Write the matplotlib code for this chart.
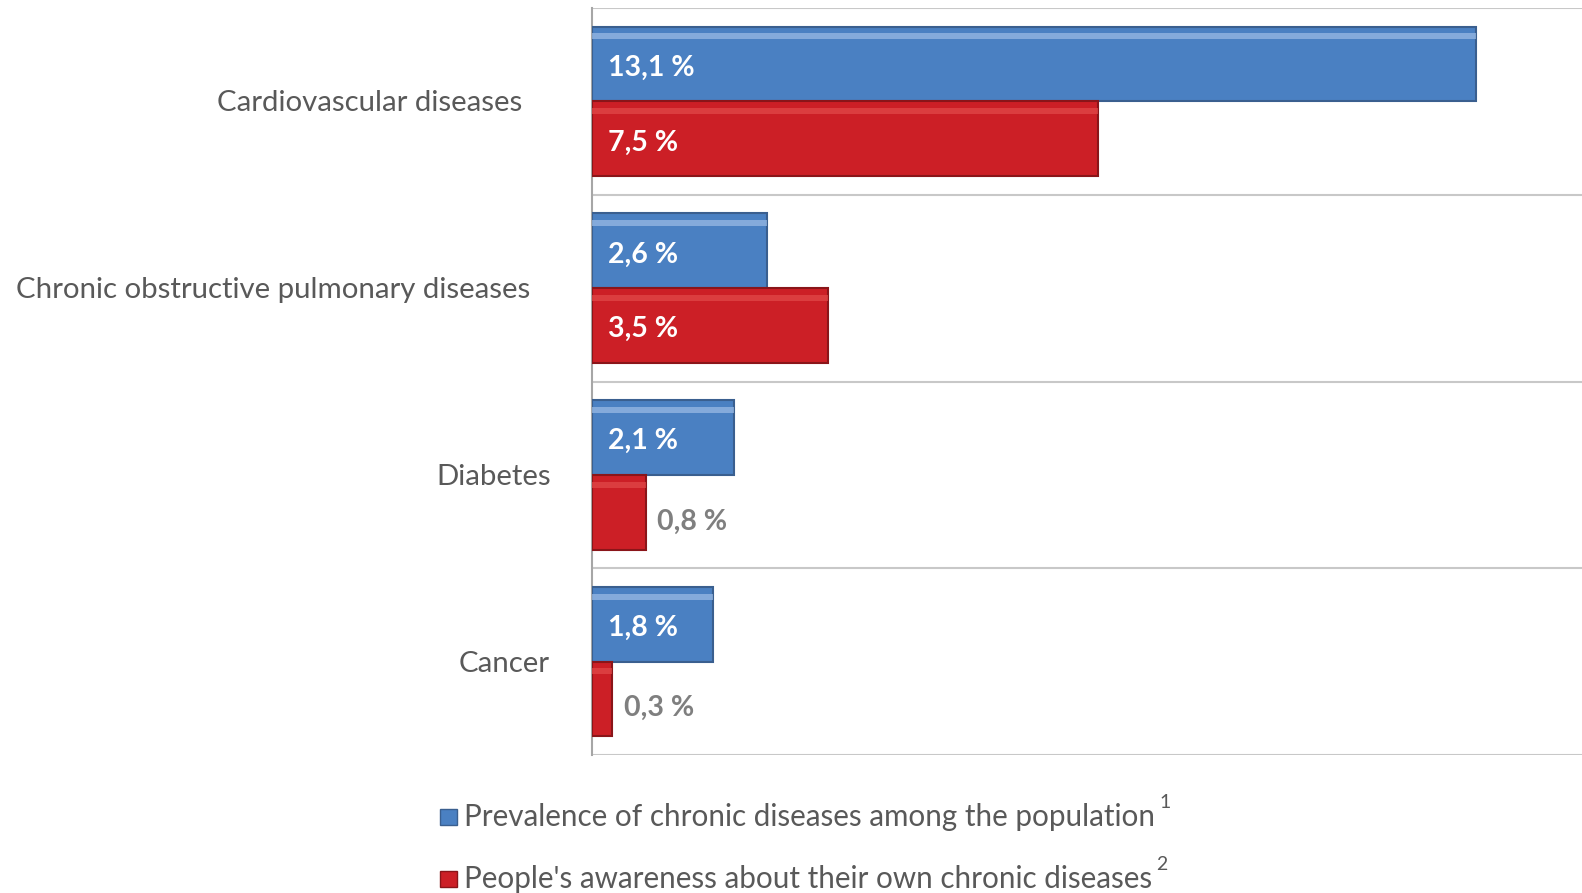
import matplotlib.pyplot as plt
import numpy as np

# data
categories = ["Cardiovascular diseases",
              "Chronic obstructive pulmonary diseases",
              "Diabetes",
              "Cancer"]
prevalence = [13.1, 2.6, 2.1, 1.8]
awareness = [7.5, 3.5, 0.8, 0.3]
legend_labels = ["Prevalence of chronic diseases among the population",
                 "People's awareness about their own chronic diseases"]
legend_sup = ["1", "2"]

blue = "#4a80c2"
blue_edge = "#3a5f8f"
red = "#cc1f26"
red_edge = "#8a1519"
text_grey = "#595959"
label_grey = "#7f7f7f"

plt.rcParams['font.family'] = ['Lato', 'DejaVu Sans']

fig = plt.figure(figsize=(15.82, 8.93), dpi=100)
ax = fig.add_axes([592 / 1582, 1 - 755 / 893, 1 - 592 / 1582, (755 - 8) / 893])

y = np.arange(len(categories))
h = 0.40

ax.barh(y - h / 2, prevalence, height=h, color=blue,
        edgecolor=blue_edge, linewidth=1.5, zorder=3)
ax.barh(y + h / 2, awareness, height=h, color=red,
        edgecolor=red_edge, linewidth=1.5, zorder=3)

# soft highlight near the top of each bar
ax.barh(y - h / 2 - h * 0.37, prevalence, height=h * 0.08, color="#9dbde6",
        alpha=0.7, linewidth=0, zorder=4)
ax.barh(y + h / 2 - h * 0.37, awareness, height=h * 0.08, color="#e24a4a",
        alpha=0.7, linewidth=0, zorder=4)

ax.set_xlim(0, 14.67)
ax.set_ylim(len(categories) - 0.5, -0.5)

# category separators
for b in np.arange(-0.5, len(categories) + 0.5, 1):
    ax.axhline(b, color="#c8c8c8", linewidth=1.5, zorder=1)

for s in ["top", "right", "bottom"]:
    ax.spines[s].set_visible(False)
ax.spines["left"].set_color("#a6a6a6")
ax.spines["left"].set_linewidth(1.5)
ax.set_xticks([])
ax.set_yticks([])


def fmt(v):
    return f"{v:.1f}".replace(".", ",") + " %"


for vals, yy in [(prevalence, y - h / 2), (awareness, y + h / 2)]:
    for v, yv in zip(vals, yy):
        if v > 1.5:
            ax.text(0.24, yv + 0.02, fmt(v), color="white", fontsize=20.5,
                    fontweight="bold", va="center", ha="left", zorder=5)
        else:
            ax.text(v + 0.17, yv + 0.05, fmt(v), color=label_grey, fontsize=20.5,
                    fontweight="bold", va="center", ha="left", zorder=5)

# category labels to the left of the axis
label_right = [522, 530, 551, 550]
for i, (cat, xr) in enumerate(zip(categories, label_right)):
    ax.text(xr / 1582, 1 - (103 + i * 187) / 893, cat, transform=fig.transFigure,
            ha="right", va="center", fontsize=21.2, color=text_grey)

# legend
for i, (lab, sup, col, ec) in enumerate(zip(legend_labels, legend_sup,
                                            [blue, red], [blue_edge, red_edge])):
    ly = 1 - (817 + i * 62) / 893
    fig.patches.append(plt.Rectangle((440 / 1582, ly - 8 / 893), 17 / 1582, 16 / 893,
                                     transform=fig.transFigure, facecolor=col,
                                     edgecolor=ec, linewidth=1))
    t = fig.text(464 / 1582, ly, lab, ha="left", va="center", fontsize=21.3,
                 color=text_grey)
    fig.canvas.draw()
    bb = t.get_window_extent()
    fig.text(bb.x1 / 1582 + 4 / 1582, ly + 15 / 893, sup, ha="left", va="center",
             fontsize=14, color=text_grey)

fig.savefig("out.png", dpi=100)
